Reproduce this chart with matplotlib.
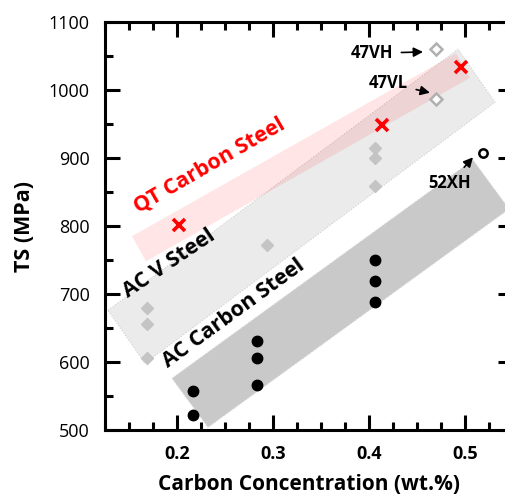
import matplotlib.pyplot as plt
from matplotlib.patches import Polygon
from matplotlib.ticker import MultipleLocator

plt.rcParams['font.family'] = ['Open Sans', 'DejaVu Sans']

# datos
ac_carbon_x = [0.217, 0.217, 0.283, 0.283, 0.283, 0.406, 0.406, 0.406]
ac_carbon_ts = [557, 522, 631, 606, 566, 750, 719, 688]

ac_v_x = [0.169, 0.169, 0.169, 0.294, 0.406, 0.406, 0.406]
ac_v_ts = [679, 656, 606, 772, 915, 900, 859]

qt_x = [0.202, 0.4135, 0.496]
qt_ts = [801, 949, 1034]

v_open_x = [0.470, 0.470]
v_open_ts = [1060, 987]

xh_x = [0.519]
xh_ts = [908]

# bandas (esquinas en unidades de datos)
banda_qt = [(0.1531, 785), (0.4906, 1054), (0.5052, 1018), (0.1677, 748)]
banda_acv = [(0.1281, 676), (0.4927, 1060), (0.5313, 982), (0.1667, 598)]
banda_acc = [(0.1948, 576), (0.5083, 897), (0.5458, 825), (0.2323, 504)]

fig = plt.figure(figsize=(5.06, 4.94), dpi=100)
ax = fig.add_axes([105 / 506, 64 / 494, 408 / 506, 408 / 494])

ax.add_patch(Polygon(banda_acv, closed=True, facecolor='#ebebeb', edgecolor='#d0d0d0',
                     ls=':', lw=0.8, zorder=1))
ax.add_patch(Polygon(banda_acc, closed=True, facecolor='#c9c9c9', edgecolor='#d8d8d8',
                     ls=':', lw=0.8, zorder=1))
ax.add_patch(Polygon(banda_qt, closed=True, facecolor='red', alpha=0.1, lw=0, zorder=2))

ax.plot(ac_carbon_x, ac_carbon_ts, 'o', color='black', ms=7.5, ls='none', zorder=4)
ax.plot(ac_v_x, ac_v_ts, 'D', color='#c4c4c4', ms=6.5, ls='none', zorder=4)
ax.plot(v_open_x, v_open_ts, 'D', mfc='white', mec='#b0b0b0', mew=1.8, ms=6.5, ls='none', zorder=4)
ax.plot(qt_x, qt_ts, 'x', color='red', ms=9, mew=2.6, ls='none', zorder=5)
ax.plot(xh_x, xh_ts, 'o', mfc='white', mec='black', mew=1.8, ms=6, ls='none', zorder=4)

# etiquetas de las bandas
ax.text(0.1594, 819, 'QT Carbon Steel', color='red', fontsize=15.5, fontweight='bold',
        rotation=30, rotation_mode='anchor', ha='left', va='baseline', zorder=6)
ax.text(0.149, 694, 'AC V Steel', color='black', fontsize=15.5, fontweight='bold',
        rotation=34, rotation_mode='anchor', ha='left', va='baseline', zorder=6)
ax.text(0.1906, 591, 'AC Carbon Steel', color='black', fontsize=15.5, fontweight='bold',
        rotation=36, rotation_mode='anchor', ha='left', va='baseline', zorder=6)

flecha = dict(arrowstyle='-|>', color='black', lw=1.2, shrinkA=4, shrinkB=0, mutation_scale=14)
ax.annotate('47VH', xy=(0.4563, 1056), xytext=(0.425, 1054), ha='right', va='center',
            fontsize=12, fontweight='bold', arrowprops=flecha, zorder=6)
ax.annotate('47VL', xy=(0.4635, 996), xytext=(0.4406, 1010), ha='right', va='center',
            fontsize=12, fontweight='bold', arrowprops=flecha, zorder=6)
ax.annotate('52XH', xy=(0.5083, 901), xytext=(0.4844, 863), ha='center', va='center',
            fontsize=12, fontweight='bold', arrowprops=flecha, zorder=6)

ax.set_xlim(0.125, 0.55)
ax.set_ylim(500, 1100)
ax.xaxis.set_major_locator(MultipleLocator(0.1))
ax.xaxis.set_minor_locator(MultipleLocator(0.025))
ax.yaxis.set_major_locator(MultipleLocator(100))
ax.yaxis.set_minor_locator(MultipleLocator(50))
ax.set_xticks([0.2, 0.3, 0.4, 0.5])
ax.set_xticklabels(['0.2', '0.3', '0.4', '0.5'], fontweight='bold')

for s in ax.spines.values():
    s.set_linewidth(2.2)
ax.tick_params(which='both', direction='in', top=True, right=True, width=2.2)
ax.tick_params(which='major', length=10.5, pad=11)
ax.tick_params(which='minor', length=5.5)
ax.tick_params(axis='both', labelsize=13)

ax.set_xlabel('Carbon Concentration (wt.%)', fontsize=15, fontweight='bold', labelpad=8)
ax.set_ylabel('TS (MPa)', fontsize=15.5, fontweight='bold', labelpad=10)

fig.savefig('out.png', dpi=100)
